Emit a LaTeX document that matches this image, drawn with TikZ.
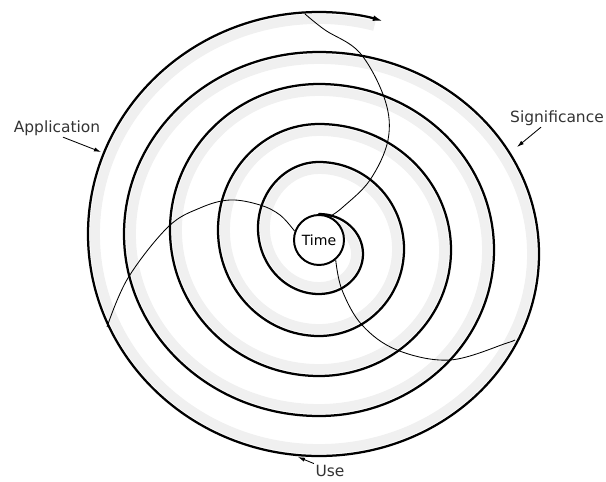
\documentclass[tikz,border=0pt]{standalone}
\usepackage{fontspec}
\setmainfont{DejaVu Sans}
\usepackage{tikz}
\usetikzlibrary{arrows.meta, backgrounds}

\tikzset{
  spiral/.style={line width=1.6pt, line cap=round},
  stipple/.style={line width=7pt, draw=black!6},
  thread/.style={line width=0.6pt},
  pointer/.style={line width=0.6pt, -{Latex[length=5pt, width=3pt]}},
  label/.style={font=\fontsize{11}{13}\selectfont, text=black!80, inner sep=1pt},
  timenode/.style={circle, draw, line width=1.4pt, fill=white, minimum size=1.25cm, inner sep=0pt, font=\fontsize{10}{12}\selectfont}
}

\begin{document}
\begin{tikzpicture}[x=0.025cm, y=0.025cm]
      \useasboundingbox (0,0) rectangle (606,481);

      \node[timenode] (time) at (319,241) {Time};

      \begin{scope}[on background layer]
        \draw[stipple] ([yshift=-0.175cm]time.north)
          \foreach \a/\rx/\ry in {90/44/40, 270/61/66, 90/85/87, 270/101/106, 90/132/126,
                                  270/149/146, 90/175/166, 270/195/182, 90/220/202, 270/231/222}
          { arc[start angle=\a, delta angle=-180, x radius={\rx-7}, y radius={\ry-7}] }
          arc[start angle=90, end angle=76, x radius=229, y radius=235];
      \end{scope}

      \draw[spiral, -{Latex[length=8pt, width=4pt]}] (time.north)
        \foreach \a/\rx/\ry in {90/44/40, 270/61/66, 90/85/87, 270/101/106, 90/132/126,
                                270/149/146, 90/175/166, 270/195/182, 90/220/202, 270/231/222}
        { arc[start angle=\a, delta angle=-180, x radius=\rx, y radius=\ry] }
        arc[start angle=90, end angle=74, x radius=236, y radius=242];

      \coordinate (sigend) at (305,467);
      \coordinate (append) at (107,154);
      \coordinate (useend) at (514,141);

      \draw[thread] plot[smooth, tension=0.6] coordinates
        {(time.65) (343,274) (370,301) (388,341) (385,381) (360,428) (325,451) (sigend)};
      \draw[thread] plot[smooth, tension=0.6] coordinates
        {(time.160) (280,266) (260,276) (230,281) (200,273) (168,254) (128,203) (append)};
      \draw[thread] plot[smooth, tension=0.6] coordinates
        {(time.-50) (342,191) (362,156) (397,131) (450,121) (507,138) (useend)};

      \node[label] (application) at (57,353) {Application};
      \node[label] (significance) at (557,363) {Significance};
      \node[label] (use) at (330,10) {Use};

      \coordinate (apptip) at (101,329);
      \coordinate (sigtip) at (517,334);
      \coordinate (usetip) at (298,24);

      \draw[pointer] ([xshift=0.15cm]application.south) -- (apptip);
      \draw[pointer] ([xshift=-0.4cm]significance.south) -- (sigtip);
      \draw[pointer] (use.north west) -- (usetip);
    \end{tikzpicture}
\end{document}
